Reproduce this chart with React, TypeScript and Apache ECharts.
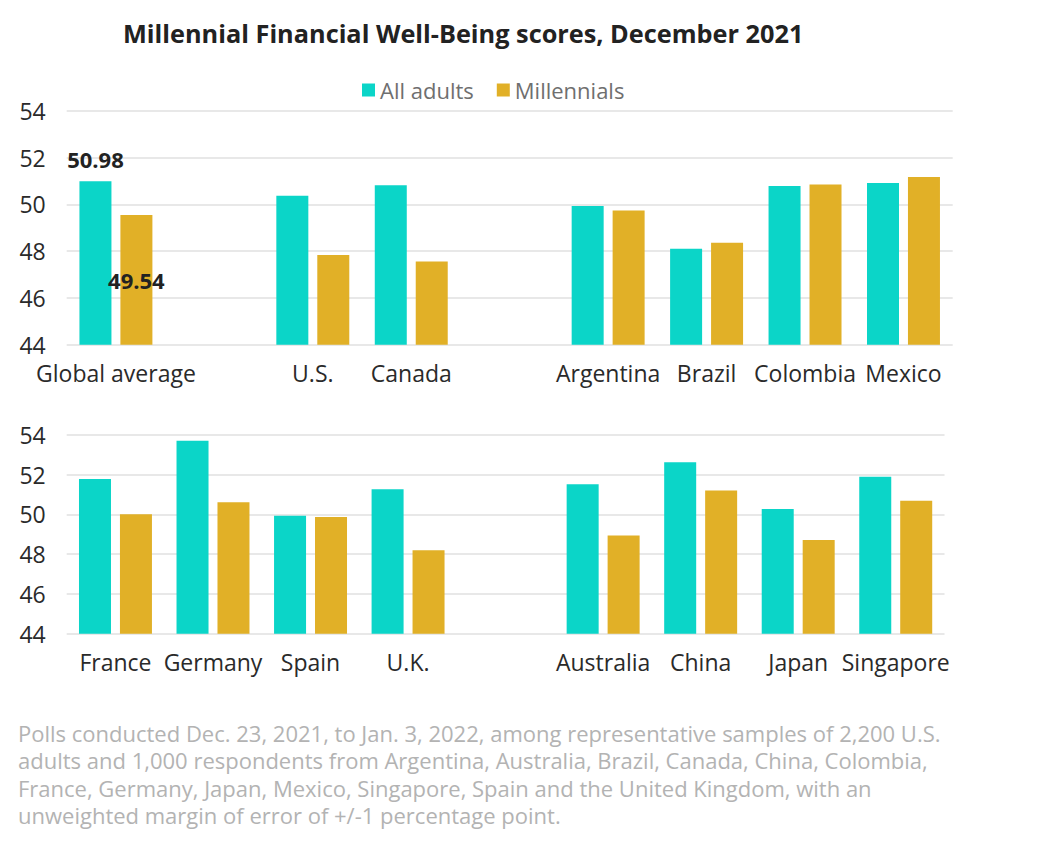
import React, { useEffect, useRef } from "react";
import * as echarts from "echarts";

const titleText = "Millennial Financial Well-Being scores, December 2021";
const seriesNames = ["All adults", "Millennials"];

const topCategories = ["Global average", "", "U.S.", "Canada", " ", "Argentina", "Brazil", "Colombia", "Mexico"];
const topAllAdults = [50.98, null, 50.37, 50.81, null, 49.93, 48.1, 50.78, 50.91];
const topMillennials = [49.54, null, 47.83, 47.56, null, 49.73, 48.36, 50.85, 51.17];

const bottomCategories = ["France", "Germany", "Spain", "U.K.", "", "Australia", "China", "Japan", "Singapore"];
const bottomAllAdults = [51.77, 53.7, 49.93, 51.26, null, 51.51, 52.61, 50.27, 51.89];
const bottomMillennials = [50.0, 50.6, 49.86, 48.19, null, 48.94, 51.19, 48.71, 50.68];

const yMin = 44;
const yMax = 54;
const yInterval = 2;

const footnoteLines = [
  "Polls conducted Dec. 23, 2021, to Jan. 3, 2022, among representative samples of 2,200 U.S.",
  "adults and 1,000 respondents from Argentina, Australia, Brazil, Canada, China, Colombia,",
  "France, Germany, Japan, Mexico, Singapore, Spain and the United Kingdom, with an",
  "unweighted margin of error of +/-1 percentage point.",
];

const TEAL = "#0bd5c8";
const GOLD = "#e1b027";
const FONT = "'Open Sans', Lato, sans-serif";

export default function App() {
  const ref = useRef<HTMLDivElement>(null);
  useEffect(() => {
    document.body.style.margin = "0";
    if (!ref.current) return;
    const chart = echarts.init(ref.current, undefined, { renderer: "svg" });

    const yAxisBase = (gridIndex: number) => ({
      type: "value",
      gridIndex,
      min: yMin,
      max: yMax,
      interval: yInterval,
      axisLine: { show: false },
      axisTick: { show: false },
      axisLabel: { fontSize: 23, color: "#2a2a2a", margin: 21, fontFamily: FONT },
      splitLine: { lineStyle: { color: "#e0e0e0", width: 1.5 } },
    });
    const xAxisBase = (gridIndex: number, data: string[]) => ({
      type: "category",
      gridIndex,
      data,
      axisLine: { show: false },
      axisTick: { show: false },
      axisLabel: { fontSize: 23, color: "#2a2a2a", margin: 17, interval: 0, fontFamily: FONT },
    });

    const labelStyle = { fontSize: 22, fontWeight: "bold", color: "#222", fontFamily: FONT };
    const withFirstLabel = (arr: (number | null)[], position: string, distance: number) =>
      arr.map((v, i) =>
        i === 0 && v != null
          ? { value: v, label: { show: true, position, distance, formatter: (p: any) => p.value.toFixed(2), ...labelStyle } }
          : v == null
          ? "-"
          : v
      );

    const barCommon = { type: "bar", barWidth: 32, barGap: "28%" };

    chart.setOption({
      animation: false,
      textStyle: { fontFamily: FONT },
      title: {
        text: titleText,
        left: 118,
        top: 15,
        textStyle: { fontSize: 25.3, fontWeight: "bold", color: "#222", fontFamily: FONT },
      },
      legend: {
        data: seriesNames,
        left: 357,
        top: 74,
        icon: "rect",
        itemWidth: 13,
        itemHeight: 13,
        itemGap: 23,
        textStyle: { fontSize: 22, color: "#6f6f6f", fontFamily: FONT },
      },
      grid: [
        { left: 66.7, right: 91.3, top: 110.7, height: 234 },
        { left: 66.7, right: 99.5, top: 434.7, height: 199 },
      ],
      xAxis: [xAxisBase(0, topCategories), xAxisBase(1, bottomCategories)],
      yAxis: [yAxisBase(0), yAxisBase(1)],
      series: [
        { ...barCommon, name: seriesNames[0], xAxisIndex: 0, yAxisIndex: 0, itemStyle: { color: TEAL }, data: withFirstLabel(topAllAdults, "top", 11) },
        { ...barCommon, name: seriesNames[1], xAxisIndex: 0, yAxisIndex: 0, itemStyle: { color: GOLD }, data: withFirstLabel(topMillennials, "inside", 0) },
        { ...barCommon, name: seriesNames[0], xAxisIndex: 1, yAxisIndex: 1, itemStyle: { color: TEAL }, data: bottomAllAdults.map((v) => (v == null ? "-" : v)) },
        { ...barCommon, name: seriesNames[1], xAxisIndex: 1, yAxisIndex: 1, itemStyle: { color: GOLD }, data: bottomMillennials.map((v) => (v == null ? "-" : v)) },
      ],
      graphic: footnoteLines.map((t, i) => ({
        type: "text",
        x: 18,
        y: 733 + i * 27.4,
        style: { text: t, fontSize: 22, fill: "#b3b3b3", fontFamily: FONT, verticalAlign: "middle" },
      })),
    });
    return () => chart.dispose();
  }, []);
  return <div ref={ref} style={{ width: 1044, height: 848 }} />;
}
